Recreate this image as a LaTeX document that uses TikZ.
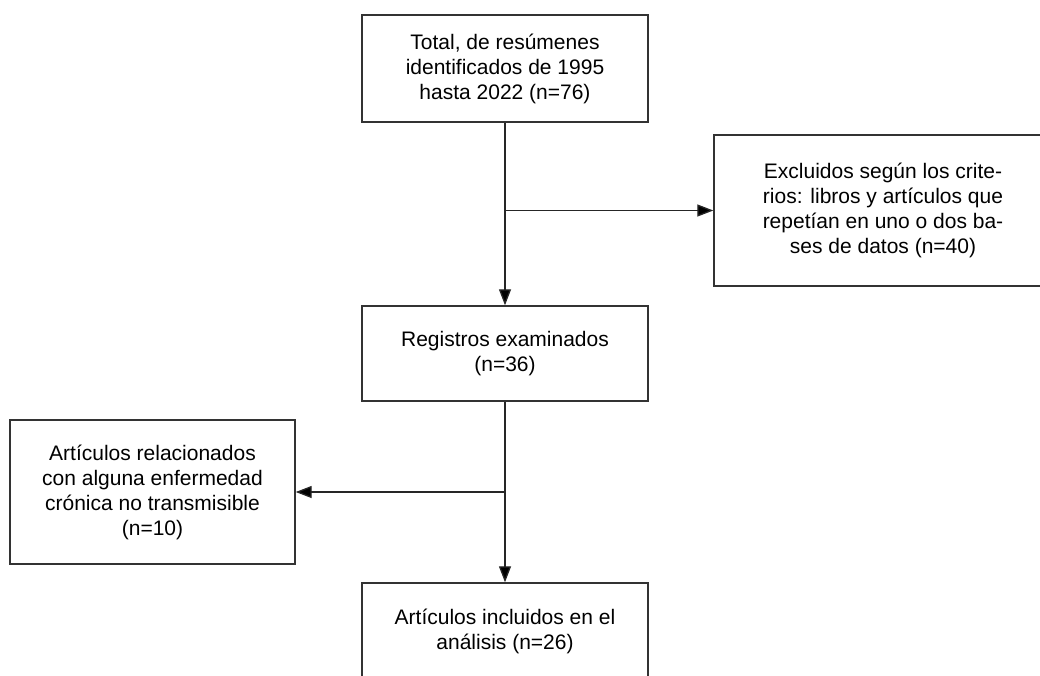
\documentclass[tikz,border=0pt]{standalone}
\usepackage{fontspec}
\setmainfont{Liberation Sans}
\usepackage{tikz}
\usetikzlibrary{arrows.meta}

\tikzset{
  caja/.style={draw=black!80, line width=1.4pt, align=center, inner sep=0pt,
    font=\fontsize{21}{25}\selectfont},
  flecha/.style={draw=black!85, line width=1.3pt, -{Triangle[length=16pt,width=12pt,fill=black]}}
}

\begin{document}
\begin{tikzpicture}[x=1pt,y=-1pt]
                    \useasboundingbox (0,0) rectangle (1040,675);

                    \node[caja, minimum width=286pt, minimum height=107pt] (tot) at (505,68.5)
                      {Total, de resúmenes\\identificados de 1995\\hasta 2022 (n=76)};
                    \node[caja, minimum width=338pt, minimum height=151pt] (exc) at (883,210.5)
                      {Excluidos según los crite-\\rios: libros y artículos que\\repetían en uno o dos ba-\\ses de datos (n=40)};
                    \node[caja, minimum width=286pt, minimum height=95pt] (reg) at (505,353.5)
                      {Registros examinados\\(n=36)};
                    \node[caja, minimum width=285pt, minimum height=144pt] (art) at (152.5,492)
                      {Artículos relacionados\\con alguna enfermedad\\crónica no transmisible\\(n=10)};
                    \node[caja, minimum width=286pt, minimum height=97pt] (inc) at (505,631.5)
                      {Artículos incluidos en el\\análisis (n=26)};

                    \coordinate (b1) at (505,210.5);
                    \coordinate (b2) at (505,492);

                    \draw[flecha] (tot) -- (reg);
                    \draw[flecha] (b1) -- (exc);
                    \draw[flecha] (reg) -- (inc);
                    \draw[flecha] (b2) -- (art);
                \end{tikzpicture}
\end{document}
